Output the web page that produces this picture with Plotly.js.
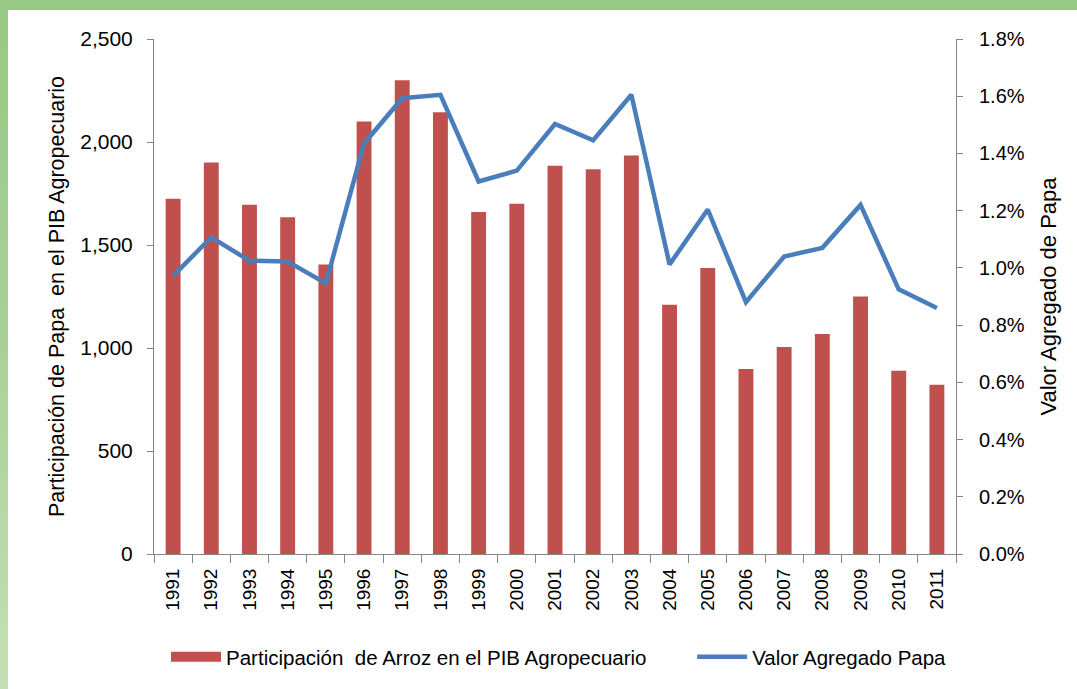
<!DOCTYPE html>
<html>
<head>
<meta charset="utf-8">
<script src="https://cdn.plot.ly/plotly-3.0.1.min.js"></script>
<style>
  html, body { margin: 0; padding: 0; width: 1077px; height: 689px; overflow: hidden; }
  body { background: linear-gradient(to bottom, #97c884 0%, #a9d196 50%, #c3e0b6 100%); position: relative; }
  #top { position: absolute; left: 0; top: 0; width: 1077px; height: 10px; background: #97c884; }
  #chart { position: absolute; left: 8px; top: 10px; width: 1069px; height: 679px; background: #ffffff; }
</style>
</head>
<body>
<div id="top"></div>
<div id="chart"></div>
<script>
const years = ["1991","1992","1993","1994","1995","1996","1997","1998","1999","2000","2001","2002","2003","2004","2005","2006","2007","2008","2009","2010","2011"];
const participacion = [1725, 1900, 1695, 1635, 1405, 2100, 2300, 2145, 1660, 1700, 1885, 1868, 1935, 1210, 1388, 898, 1005, 1068, 1250, 890, 822];
const valorAgregado = [0.00972, 0.01107, 0.01025, 0.01022, 0.00946, 0.01435, 0.01593, 0.01605, 0.01302, 0.01340, 0.01503, 0.01446, 0.01605, 0.01012, 0.01204, 0.00880, 0.01040, 0.01070, 0.01220, 0.00925, 0.00860];
const barName = "Participación&nbsp; de Arroz en el PIB Agropecuario";
const lineName = "Valor Agregado Papa";
const leftTitle = "Participación de Papa&nbsp; en el PIB Agropecuario";
const rightTitle = "Valor Agregado de Papa";

const FONT = "'Liberation Sans', Arial, sans-serif";
const BAR_COLOR = '#c0504d';
const LINE_COLOR = '#4a7ebb';

const data = [
  {
    type: 'bar', x: years, y: participacion, name: barName, showlegend: false,
    marker: { color: BAR_COLOR }, yaxis: 'y'
  },
  {
    // legend swatch for the bars (wide rectangle like the original)
    type: 'scatter', mode: 'lines', x: [null], y: [null], name: barName,
    line: { color: BAR_COLOR, width: 12 }, yaxis: 'y', hoverinfo: 'skip', legend: 'legend'
  },
  {
    type: 'scatter', mode: 'lines', x: years, y: valorAgregado, name: lineName,
    line: { color: LINE_COLOR, width: 4.5 }, yaxis: 'y2', legend: 'legend2'
  }
];

const legendFont = { family: FONT, size: 20.5, color: '#000000' };

const layout = {
  width: 1069, height: 679,
  margin: { l: 146, r: 121, t: 29, b: 135 },
  paper_bgcolor: '#ffffff', plot_bgcolor: '#ffffff',
  font: { family: FONT, size: 20, color: '#000000' },
  bargap: 0.61,
  showlegend: true,
  legend: {
    orientation: 'h', x: 0.015, xanchor: 'left', y: -0.2, yanchor: 'middle',
    font: legendFont, itemwidth: 50, bgcolor: 'rgba(0,0,0,0)'
  },
  legend2: {
    orientation: 'h', x: 0.671, xanchor: 'left', y: -0.2, yanchor: 'middle',
    font: legendFont, itemwidth: 50, bgcolor: 'rgba(0,0,0,0)'
  },
  xaxis: {
    type: 'category', showgrid: false, showline: true, linecolor: '#868686', linewidth: 1,
    ticks: 'outside', tickson: 'boundaries', ticklen: 8, tickcolor: '#868686',
    tickangle: -90, ticklabelstandoff: 6,
    tickfont: { family: FONT, size: 19, color: '#000000' }
  },
  yaxis: {
    range: [0, 2500], dtick: 500, tickformat: ',d', showgrid: false, zeroline: false,
    showline: true, linecolor: '#868686', linewidth: 1,
    ticks: 'outside', ticklen: 6, tickcolor: '#868686', ticklabelstandoff: 10,
    tickfont: { family: FONT, size: 21, color: '#000000' },
    title: { text: leftTitle, font: { family: FONT, size: 21.5, color: '#000000' }, standoff: 9 }
  },
  yaxis2: {
    overlaying: 'y', side: 'right', range: [0, 0.018], dtick: 0.002, tickformat: '.1%',
    showgrid: false, zeroline: false, showline: true, linecolor: '#868686', linewidth: 1,
    ticks: 'outside', ticklen: 6, tickcolor: '#868686', ticklabelstandoff: 12,
    tickfont: { family: FONT, size: 20, color: '#000000' },
    title: { text: rightTitle, font: { family: FONT, size: 22, color: '#000000' }, standoff: 16 }
  }
};

Plotly.newPlot('chart', data, layout, { displayModeBar: false, staticPlot: true });
</script>
</body>
</html>
